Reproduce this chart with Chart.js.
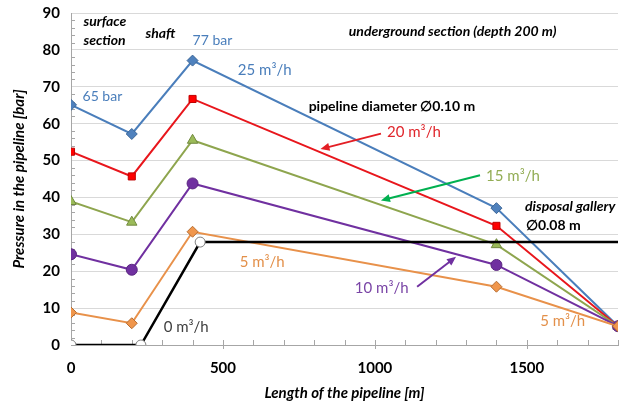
<!DOCTYPE html>
<html>
<head>
<meta charset="utf-8">
<script src="https://cdn.jsdelivr.net/npm/chart.js@4"></script>
<style>
  html, body { margin: 0; padding: 0; background: #ffffff; }
  #wrap { width: 634px; height: 404px; }
</style>
</head>
<body>
<div id="wrap"><canvas id="grafico" width="634" height="404"></canvas></div>
<script>
// Longitud de la tubería [m] en cada punto
const longitudes = [0, 200, 400, 1400, 1800];
const longitudes0 = [0, 230, 425, 1800];

// Presión [bar] por caudal
const presion25 = [65.1, 57.2, 77.1, 37.1, 5.1];
const presion20 = [52.4, 45.7, 66.7, 32.3, 5.1];
const presion15 = [38.9, 33.3, 55.5, 27.2, 5.1];
const presion10 = [24.6, 20.4, 43.8, 21.7, 5.1];
const presion5  = [8.8, 5.9, 30.7, 15.8, 5.1];
const presion0  = [0, 0, 27.9, 27.9];

const ticksX = [0, 500, 1000, 1500];
const ticksY = [0, 10, 20, 30, 40, 50, 60, 70, 80, 90];

// Textos: [texto, x, y, color, fuente]
const fuenteNegrita = 'italic bold 14px Lato';
const textos = [
    ['surface', 41, 87.7, '#000000', fuenteNegrita],
    ['section', 41, 82.5, '#000000', fuenteNegrita],
    ['shaft', 245, 84.4, '#000000', fuenteNegrita],
    ['77 bar', 400, 82.5, '#4A7EBB', '14px Lato'],
    ['65 bar', 38, 67.3, '#4A7EBB', '14px Lato'],
    ['25 m³/h', 549, 74.4, '#4A7EBB', '15px Lato'],
    ['underground section (depth 200 m)', 914, 85, '#000000', fuenteNegrita],
    ['pipeline diameter ∅0.10 m', 782, 64.6, '#000000', 'bold 14px Lato'],
    ['20 m³/h', 1040, 57.8, '#E0262C', '15px Lato'],
    ['15 m³/h', 1366, 45.9, '#93AD55', '15px Lato'],
    ['disposal gallery', 1494, 37.5, '#000000', fuenteNegrita],
    ['∅0.08 m', 1497, 32.3, '#000000', 'bold 14px Lato'],
    ['10 m³/h', 934, 15.5, '#7A45A6', '15px Lato'],
    ['5 m³/h', 1544, 6.5, '#E3904A', '15px Lato'],
    ['5 m³/h', 555, 22.5, '#E3904A', '15px Lato'],
    ['0 m³/h', 305, 4.9, '#404040', '15px Lato']
];

// Flechas: [x0, y0, x1, y1, color]
const flechas = [
    [1020, 57.3, 821, 53.1, '#E31E24'],
    [1346, 46.0, 1020, 39.2, '#00B050'],
    [1139, 15.8, 1267, 23.9, '#7030A0']
];

function puntos(xs, ys) {
    return xs.map((x, i) => ({ x: x, y: ys[i] }));
}

const pluginExtras = {
    id: 'extras',
    beforeDatasetsDraw(chart) {
        const ctx = chart.ctx;
        const sx = chart.scales.x;
        const sy = chart.scales.y;
        const area = chart.chartArea;
        ctx.save();
        ctx.strokeStyle = '#A6A6A6';
        ctx.lineWidth = 1;
        ctx.beginPath();
        // ticks menores eje y
        for (let v = 2; v < 90; v += 2) {
            if (v % 10 === 0) continue;
            const y = Math.round(sy.getPixelForValue(v)) + 0.5;
            ctx.moveTo(area.left, y);
            ctx.lineTo(area.left + 4, y);
        }
        // ticks eje x
        for (let v = 100; v <= 1800; v += 100) {
            const x = Math.round(sx.getPixelForValue(v)) + 0.5;
            if (v % 500 === 0) {
                ctx.moveTo(x, area.bottom - 5);
                ctx.lineTo(x, area.bottom + 4);
            } else {
                ctx.moveTo(x, area.bottom - 5);
                ctx.lineTo(x, area.bottom);
            }
        }
        ctx.stroke();
        ctx.restore();
    },
    afterDatasetsDraw(chart) {
        const ctx = chart.ctx;
        const sx = chart.scales.x;
        const sy = chart.scales.y;
        ctx.save();
        // flechas
        flechas.forEach(f => {
            const x0 = sx.getPixelForValue(f[0]), y0 = sy.getPixelForValue(f[1]);
            const x1 = sx.getPixelForValue(f[2]), y1 = sy.getPixelForValue(f[3]);
            const ang = Math.atan2(y1 - y0, x1 - x0);
            ctx.strokeStyle = f[4];
            ctx.fillStyle = f[4];
            ctx.lineWidth = 2;
            ctx.beginPath();
            ctx.moveTo(x0, y0);
            ctx.lineTo(x1 - 6 * Math.cos(ang), y1 - 6 * Math.sin(ang));
            ctx.stroke();
            ctx.beginPath();
            ctx.moveTo(x1, y1);
            ctx.lineTo(x1 - 9 * Math.cos(ang) + 4 * Math.sin(ang), y1 - 9 * Math.sin(ang) - 4 * Math.cos(ang));
            ctx.lineTo(x1 - 9 * Math.cos(ang) - 4 * Math.sin(ang), y1 - 9 * Math.sin(ang) + 4 * Math.cos(ang));
            ctx.closePath();
            ctx.fill();
        });
        // textos
        ctx.textAlign = 'left';
        ctx.textBaseline = 'middle';
        textos.forEach(t => {
            ctx.font = t[4];
            ctx.fillStyle = t[3];
            ctx.fillText(t[0], sx.getPixelForValue(t[1]), sy.getPixelForValue(t[2]));
        });
        ctx.restore();
    }
};

const ctx = document.getElementById('grafico').getContext('2d');
new Chart(ctx, {
    type: 'scatter',
    data: {
        datasets: [
            {
                label: '0 m³/h',
                order: 0,
                data: puntos(longitudes0, presion0),
                borderColor: '#000000',
                borderWidth: 2.5,
                pointStyle: 'circle',
                pointRadius: [5, 5, 5, 0],
                pointBackgroundColor: '#ffffff',
                pointBorderColor: '#7F7F7F',
                pointBorderWidth: 1
            },
            {
                label: '25 m³/h',
                order: 5,
                data: puntos(longitudes, presion25),
                borderColor: '#4A7EBB',
                borderWidth: 2,
                pointStyle: 'rectRot',
                pointRadius: 5.5,
                pointBackgroundColor: '#4F81BD',
                pointBorderColor: '#3C6696',
                pointBorderWidth: 1
            },
            {
                label: '20 m³/h',
                order: 4,
                data: puntos(longitudes, presion20),
                borderColor: '#E8161C',
                borderWidth: 2,
                pointStyle: 'rect',
                pointRadius: 5,
                pointBackgroundColor: '#FF0000',
                pointBorderColor: '#C00000',
                pointBorderWidth: 1
            },
            {
                label: '15 m³/h',
                order: 3,
                data: puntos(longitudes, presion15),
                borderColor: '#8EA54E',
                borderWidth: 2,
                pointStyle: 'triangle',
                pointRadius: 6,
                pointBackgroundColor: '#9BBB59',
                pointBorderColor: '#71893F',
                pointBorderWidth: 1
            },
            {
                label: '10 m³/h',
                order: 2,
                data: puntos(longitudes, presion10),
                borderColor: '#7030A0',
                borderWidth: 2,
                pointStyle: 'circle',
                pointRadius: 5.5,
                pointBackgroundColor: '#7030A0',
                pointBorderColor: '#5A2680',
                pointBorderWidth: 1
            },
            {
                label: '5 m³/h',
                order: 1,
                data: puntos(longitudes, presion5),
                borderColor: '#E8914A',
                borderWidth: 2,
                pointStyle: 'rectRot',
                pointRadius: 5.5,
                pointBackgroundColor: '#F0964C',
                pointBorderColor: '#B66D31',
                pointBorderWidth: 1
            }
        ]
    },
    options: {
        responsive: false,
        animation: false,
        showLine: true,
        layout: { padding: { left: 0, right: 16, top: 13, bottom: 0 } },
        plugins: {
            legend: { display: false },
            tooltip: { enabled: false }
        },
        scales: {
            x: {
                type: 'linear',
                min: 0,
                max: 1800,
                afterBuildTicks: scale => { scale.ticks = ticksX.map(v => ({ value: v })); },
                afterFit: scale => { scale.height = 59; },
                grid: { display: true, drawOnChartArea: false, drawTicks: false },
                border: { display: true, color: '#A6A6A6', width: 1 },
                ticks: {
                    padding: 14,
                    color: '#000000',
                    font: { family: 'Lato', size: 15, weight: 'bold' },
                    maxRotation: 0,
                    callback: v => String(v)
                },
                title: {
                    display: true,
                    text: 'Length of the pipeline [m]',
                    color: '#000000',
                    font: { family: 'Lato', size: 15, weight: 'bold', style: 'italic' },
                    padding: { top: 0, bottom: 2 }
                }
            },
            y: {
                type: 'linear',
                min: 0,
                max: 90,
                afterBuildTicks: scale => { scale.ticks = ticksY.map(v => ({ value: v })); },
                afterFit: scale => { scale.width = 71; },
                grid: { color: '#D9D9D9', lineWidth: 1, drawTicks: true, tickLength: 11, tickColor: 'rgba(0,0,0,0)' },
                border: { display: true, color: '#A6A6A6', width: 1 },
                ticks: {
                    padding: 0,
                    color: '#000000',
                    font: { family: 'Lato', size: 15, weight: 'bold' },
                    callback: v => String(v)
                },
                title: {
                    display: true,
                    text: 'Pressure in the pipeline [bar]',
                    color: '#000000',
                    font: { family: 'Lato', size: 15, weight: 'bold', style: 'italic' },
                    padding: { top: 10, bottom: 0 }
                }
            }
        }
    },
    plugins: [pluginExtras]
});
</script>
</body>
</html>
